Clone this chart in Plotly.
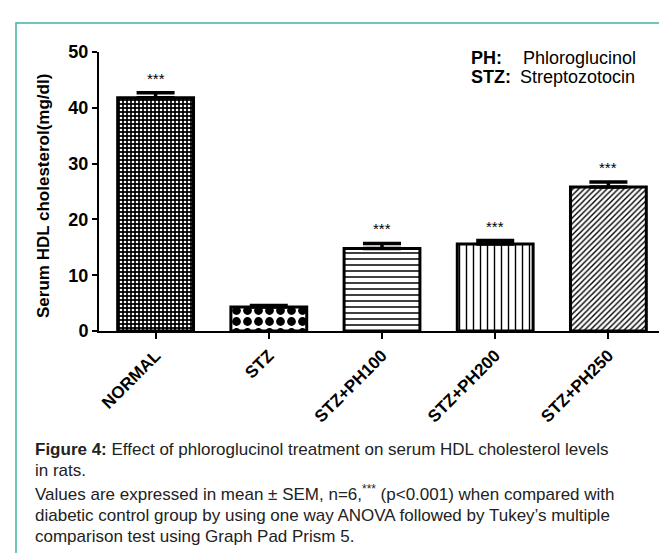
import plotly.graph_objects as go

categories = ["NORMAL", "STZ", "STZ+PH100", "STZ+PH200", "STZ+PH250"]
means = [41.8, 4.3, 14.8, 15.6, 25.8]
sems = [0.9, 0.25, 0.9, 0.6, 0.9]
sig_labels = ["***", "", "***", "***", "***"]
y_ticks = [0, 10, 20, 30, 40, 50]

pattern_shapes = [".", ".", "-", "|", "/"]
pattern_fg = ["white", "black", "black", "black", "black"]
pattern_bg = ["black", "white", "white", "white", "white"]
pattern_size = [4, 11, 6, 7, 4]
pattern_solid = [0.35, 0.5, 0.25, 0.2, 0.35]

W, H = 667, 553
L, R, T, B = 91, 10, 44, 230
PW = W - L - R
PH = H - T - B
FONT = "Arial, Liberation Sans, sans-serif"


def px(x):
    return (x - L) / PW


def py(y):
    return (H - B - y) / PH


fig = go.Figure()
for i, c in enumerate(categories):
    fig.add_trace(go.Bar(
        x=[c], y=[means[i]],
        marker=dict(
            color=pattern_bg[i],
            line=dict(color="black", width=3),
            pattern=dict(shape=pattern_shapes[i], fgcolor=pattern_fg[i],
                         bgcolor=pattern_bg[i], size=pattern_size[i],
                         solidity=pattern_solid[i], fillmode="replace"),
        ),
        error_y=dict(type="data", symmetric=False, array=[sems[i]], arrayminus=[0],
                     color="black", thickness=3.5, width=19),
        showlegend=False,
        hoverinfo="skip",
    ))

for i, c in enumerate(categories):
    if sig_labels[i]:
        fig.add_annotation(x=c, y=means[i] + sems[i], text=sig_labels[i],
                           showarrow=False, yanchor="bottom", yshift=4,
                           font=dict(family=FONT, size=15, color="black"))

# y-axis title
fig.add_annotation(xref="paper", yref="paper", x=px(35), y=py(188),
                   text="Serum HDL cholesterol(mg/dl)", textangle=-90, showarrow=False,
                   xanchor="center", yanchor="middle",
                   font=dict(family=FONT, size=17, color="black", weight="bold"))

# legend-like text
leg_reg = dict(family=FONT, size=18, color="black")
leg_bold = dict(family=FONT, size=18, color="black", weight="bold")
fig.add_annotation(xref="paper", yref="paper", x=px(461), y=py(50), text="PH:",
                   showarrow=False, xanchor="left", yanchor="middle", font=leg_bold)
fig.add_annotation(xref="paper", yref="paper", x=px(513), y=py(50), text="Phloroglucinol",
                   showarrow=False, xanchor="left", yanchor="middle", font=leg_reg)
fig.add_annotation(xref="paper", yref="paper", x=px(461), y=py(69), text="STZ:",
                   showarrow=False, xanchor="left", yanchor="middle", font=leg_bold)
fig.add_annotation(xref="paper", yref="paper", x=px(510), y=py(69), text="Streptozotocin",
                   showarrow=False, xanchor="left", yanchor="middle", font=leg_reg)

# caption
cap_font = dict(family=FONT, size=17, color="#222222")
caption = [
    (441, "<b>Figure 4:</b> Effect of phloroglucinol treatment on serum HDL cholesterol levels"),
    (462, "in rats."),
    (485, "Values are expressed in mean ± SEM, n=6,<sup>***</sup> (p<0.001) when compared with"),
    (507, "diabetic control group by using one way ANOVA followed by Tukey’s multiple"),
    (528, "comparison test using Graph Pad Prism 5."),
]
for yy, txt in caption:
    fig.add_annotation(xref="paper", yref="paper", x=px(25), y=py(yy), text=txt,
                       showarrow=False, xanchor="left", yanchor="middle", font=cap_font)

# teal frame
fig.add_shape(type="rect", xref="paper", yref="paper",
              x0=px(8), x1=px(720), y0=py(600), y1=py(15),
              line=dict(color="#3FB3A2", width=1.5), fillcolor="rgba(0,0,0,0)", layer="below")

fig.update_layout(
    width=W, height=H,
    margin=dict(l=L, r=R, t=T, b=B, autoexpand=False),
    paper_bgcolor="white", plot_bgcolor="white",
    bargap=0.33,
    font=dict(family=FONT, color="black"),
)
fig.update_xaxes(
    range=[-0.5, 4.5], showline=True, linecolor="black", linewidth=2,
    ticks="outside", ticklen=6, tickwidth=2, tickcolor="black", tickangle=-45,
    tickfont=dict(family=FONT, size=17, color="black", weight="bold"),
    showgrid=False, zeroline=False,
)
fig.update_yaxes(
    range=[0, 50], tickvals=y_ticks, showline=True, linecolor="black", linewidth=2,
    ticks="outside", ticklen=5, tickwidth=2, tickcolor="black",
    tickfont=dict(family=FONT, size=18, color="black", weight="bold"),
    showgrid=False, zeroline=False,
)

fig.write_html("out.html")
